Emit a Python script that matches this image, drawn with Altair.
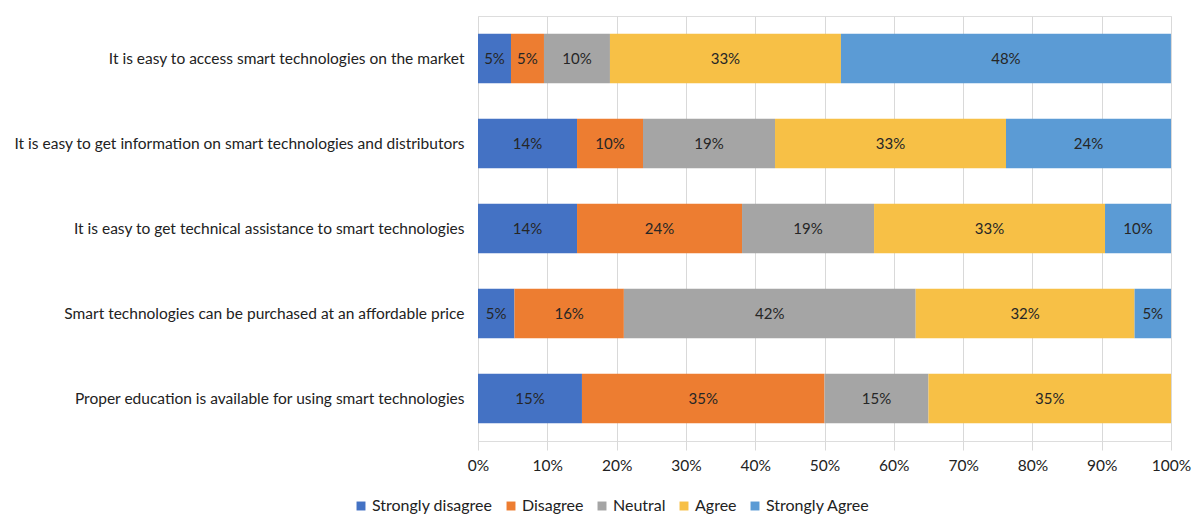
import altair as alt
import pandas as pd

questions = [
    "It is easy to access smart technologies on the market",
    "It is easy to get information on smart technologies and distributors",
    "It is easy to get technical assistance to smart technologies",
    "Smart technologies can be purchased at an affordable price",
    "Proper education is available for using smart technologies",
]
levels = ["Strongly disagree", "Disagree", "Neutral", "Agree", "Strongly Agree"]
colors = ["#4472C4", "#ED7D31", "#A5A5A5", "#F7C046", "#5B9BD5"]

strongly_disagree = [4.76, 14.29, 14.29, 5.26, 15.0]
disagree = [4.76, 9.52, 23.81, 15.79, 35.0]
neutral = [9.52, 19.05, 19.05, 42.11, 15.0]
agree = [33.33, 33.33, 33.33, 31.58, 35.0]
strongly_agree = [47.62, 23.81, 9.52, 5.26, 0.0]

series = [strongly_disagree, disagree, neutral, agree, strongly_agree]
rows = []
for li, (lvl, vals) in enumerate(zip(levels, series)):
    for q, v in zip(questions, vals):
        rows.append({"question": q, "level": lvl, "order": li, "value": v})
df = pd.DataFrame(rows)

FONT = "Lato"
FS = 15.5

base = alt.Chart(df).transform_filter("datum.value > 0").transform_stack(
    stack="value", groupby=["question"], sort=[{"field": "order", "order": "ascending"}], as_=["v0", "v1"]
).transform_calculate(mid="(datum.v0 + datum.v1) / 2", label="round(datum.value) + '%'")

y_enc = alt.Y(
    "question:N",
    sort=questions,
    title=None,
    scale=alt.Scale(paddingInner=0.42, paddingOuter=0.21),
    axis=alt.Axis(labelLimit=0, labelPadding=14, ticks=False, domain=False,
                  labelFontSize=FS, labelFont=FONT, labelColor="#222222"),
)

bars = base.mark_bar().encode(
    x=alt.X("v0:Q", scale=alt.Scale(domain=[0, 100], nice=False), title=None,
            axis=alt.Axis(values=list(range(0, 101, 10)), labelExpr="datum.value + '%'",
                          grid=True, gridColor="#D9D9D9", domain=False, tickColor="#D9D9D9",
                          tickSize=9, labelPadding=8, labelFontSize=FS, labelFont=FONT,
                          labelColor="#222222", labelFlush=False, labelOverlap=False)),
    x2="v1:Q",
    y=y_enc,
    color=alt.Color("level:N", sort=levels, scale=alt.Scale(domain=levels, range=colors),
                    legend=alt.Legend(title=None, orient="none", direction="horizontal",
                                      legendX=-125, legendY=482, symbolType="square",
                                      symbolSize=80, symbolStrokeWidth=0, labelFontSize=16,
                                      labelFont=FONT, labelColor="#222222", columnPadding=10,
                                      symbolOffset=0, labelOffset=3)),
    order=alt.Order("order:Q"),
)

texts = base.mark_text(fontSize=15, font=FONT, color="#262626").encode(
    x="mid:Q",
    y=alt.Y("question:N", sort=questions),
    text="label:N",
)

chart = (bars + texts).properties(
    width=693, height=425,
    autosize=alt.AutoSizeParams(type="none"),
    padding={"left": 470, "top": 8, "right": 22, "bottom": 78},
).configure_view(stroke=None).configure(background="white")

chart.save("out.html", embed_options={"renderer": "svg", "actions": False})
